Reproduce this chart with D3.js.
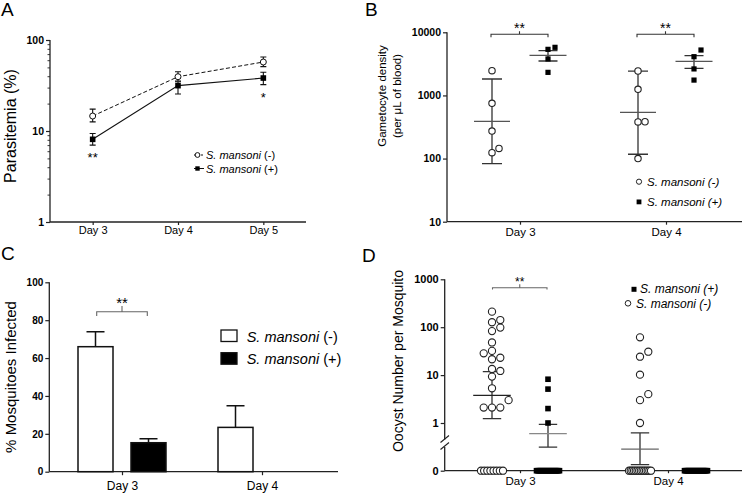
<!DOCTYPE html>
<html><head><meta charset="utf-8">
<script src="https://cdn.jsdelivr.net/npm/d3@7"></script>
<style>body{margin:0;background:#fff} svg{display:block} text{font-family:"Liberation Sans",Arial,sans-serif;fill:#000}</style>
</head><body><svg id="c" width="744" height="498"></svg>
<script>
// ---------------- data ----------------
// Panel A: parasitemia (%)
const daysA = ["Day 3", "Day 4", "Day 5"];
const aMinusMean = [14.6, 39.5, 57.3];
const aMinusLo   = [12.6, 35.5, 51.0];
const aMinusHi   = [17.4, 44.8, 65.0];
const aPlusMean  = [8.1, 31.5, 38.2];
const aPlusLo    = [7.0, 25.5, 32.3];
const aPlusHi    = [9.4, 34.8, 44.2];
const aSig       = ["**", "", "*"];
const aTicks     = [1, 10, 100];

// Panel B: gametocyte density
const daysB = ["Day 3", "Day 4"];
const bMinus = [[2465, 750, 273, 145, 124], [2440, 1250, 383, 380, 100]];
const bPlus  = [[5370, 5780, 3780, 2320], [5240, 4110, 2630, 1750]];
const bMinusMean = [389, 540],  bMinusLo = [83, 117],    bMinusHi = [1820, 2430];
const bPlusMean  = [4320, 3470], bPlusLo = [3510, 2690], bPlusHi  = [5110, 4260];
const bTicks = [10, 100, 1000, 10000];

// Panel C: % mosquitoes infected
const daysC = ["Day 3", "Day 4"];
const cMinus = [66.0, 23.4], cMinusErr = [73.9, 34.8];
const cPlus  = [15.3, 0],    cPlusErr  = [17.4, 0];
const cTicks = [0, 20, 40, 60, 80, 100];

// Panel D: oocyst number per mosquito
const daysD = ["Day 3", "Day 4"];
const dMinus = [
  [211, 141, 127, 98, 83, 48, 32, 28.5, 23, 21.4, 13.4, 12.2, 9.3, 5.3, 3.0, 2.1, 2.1, 2.1, 0, 0, 0, 0, 0, 0, 0, 0],
  [61.5, 30.8, 24.2, 10.2, 4.0, 3.0, 1.0, 0, 0, 0, 0, 0, 0, 0, 0, 0, 0, 0, 0, 0, 0]
];
const dPlus = [
  [8.2, 5.1, 2.0, 1.0, 0, 0, 0, 0, 0, 0, 0, 0, 0, 0, 0, 0, 0, 0, 0, 0, 0, 0, 0, 0, 0, 0],
  [0, 0, 0, 0, 0, 0, 0, 0, 0, 0, 0, 0, 0, 0, 0, 0, 0, 0, 0, 0, 0, 0, 0, 0]
];
const dMinusMean = [3.79, 0.30], dMinusLo = [1.23, 0.084], dMinusHi = [11.8, 0.62];
const dPlusMean  = [0.60, null], dPlusLo  = [0.33, null],  dPlusHi  = [0.94, null];
const dTicks = [1, 10, 100, 1000];

// ---------------- helpers ----------------
const svg = d3.select("#c");
const AX = "#222";

function styleAxis(g, fs, bold) {
  g.selectAll("path.domain").remove();
  g.selectAll("line").attr("stroke", AX).attr("stroke-width", 1.2);
  g.selectAll("text").attr("font-size", fs).attr("font-weight", bold ? "bold" : "normal")
    .attr("font-family", '"Liberation Sans",Arial,sans-serif').attr("fill", "#000");
}
function axisLine(g, x1, y1, x2, y2) {
  g.append("line").attr("x1", x1).attr("y1", y1).attr("x2", x2).attr("y2", y2)
    .attr("stroke", AX).attr("stroke-width", 1.3);
}
function swarm(vals, yFn, step, minDist) {
  const placed = [];
  const sorted = vals.filter(v => v > 0).slice().sort((a, b) => a - b);
  return sorted.map(v => {
    const y = yFn(v);
    const cands = [0, step, -step, 2 * step, -2 * step, 3 * step, -3 * step];
    for (const c of cands) {
      if (placed.every(p => Math.hypot(p.x - c, p.y - y) >= minDist)) {
        placed.push({ x: c, y });
        return { v, dx: c, y };
      }
    }
    placed.push({ x: 0, y });
    return { v, dx: 0, y };
  });
}
function bracket(g, x1, x2, y, down, up, label, fs, color) {
  g.append("path").attr("d", `M${x1},${y + down}V${y}H${x2}V${y + down}M${(x1 + x2) / 2},${y}V${y - up}`)
    .attr("fill", "none").attr("stroke", color).attr("stroke-width", 1.1);
  g.append("text").attr("x", (x1 + x2) / 2).attr("y", y - up + 1.5).attr("text-anchor", "middle")
    .attr("font-size", fs).text(label);
}
function legendText(g, x, y, fs, italicPart, rest, restItalic) {
  const t = g.append("text").attr("x", x).attr("y", y).attr("font-size", fs);
  t.append("tspan").attr("font-style", "italic").text(italicPart);
  t.append("tspan").attr("font-style", restItalic ? "italic" : "normal").text(rest);
}
function panelLabel(x, y, s) {
  svg.append("text").attr("x", x).attr("y", y).attr("font-size", 19).text(s);
}

panelLabel(1, 16, "A");
panelLabel(365, 16, "B");
panelLabel(1, 260, "C");
panelLabel(362, 262, "D");

// ---------------- Panel A ----------------
{
  const g = svg.append("g");
  const xA = d3.scalePoint().domain(daysA).range([50, 306]).padding(0.5);
  const yA = d3.scaleLog().domain([1, 100]).range([222, 40]);
  const minor = [];
  [1, 10].forEach(b => { for (let k = 2; k <= 9; k++) minor.push(b * k); });
  const gy = g.append("g").attr("transform", "translate(50,0)")
    .call(d3.axisLeft(yA).tickValues(aTicks).tickFormat(d3.format("d")).tickSize(4).tickPadding(2));
  styleAxis(gy, 10.5, true);
  const gm = g.append("g").attr("transform", "translate(50,0)")
    .call(d3.axisLeft(yA).tickValues(minor).tickFormat("").tickSize(2.5));
  styleAxis(gm, 10, false);
  gm.selectAll("line").attr("stroke-width", 0.9);
  const gx = g.append("g").attr("transform", "translate(0,222)")
    .call(d3.axisBottom(xA).tickSize(3).tickPadding(1.5));
  styleAxis(gx, 11, false);
  axisLine(g, 50, 40, 50, 222);
  axisLine(g, 50, 222, 306, 222);

  g.append("text").attr("transform", "translate(16,126) rotate(-90)").attr("text-anchor", "middle")
    .attr("font-size", 16).text("Parasitemia (%)");

  const line = d3.line().x((d, i) => xA(daysA[i])).y(d => yA(d));
  g.append("path").attr("d", line(aMinusMean)).attr("fill", "none").attr("stroke", "#111")
    .attr("stroke-width", 1).attr("stroke-dasharray", "4,2.2");
  g.append("path").attr("d", line(aPlusMean)).attr("fill", "none").attr("stroke", "#111").attr("stroke-width", 1.1);

  function errs(lo, hi) {
    daysA.forEach((d, i) => {
      const x = xA(d);
      g.append("path").attr("d", `M${x},${yA(lo[i])}V${yA(hi[i])}M${x - 3},${yA(lo[i])}H${x + 3}M${x - 3},${yA(hi[i])}H${x + 3}`)
        .attr("stroke", "#111").attr("stroke-width", 1.1).attr("fill", "none");
    });
  }
  errs(aMinusLo, aMinusHi);
  errs(aPlusLo, aPlusHi);
  daysA.forEach((d, i) => {
    g.append("circle").attr("cx", xA(d)).attr("cy", yA(aMinusMean[i])).attr("r", 3)
      .attr("fill", "#fff").attr("stroke", "#111").attr("stroke-width", 1);
    g.append("rect").attr("x", xA(d) - 2.8).attr("y", yA(aPlusMean[i]) - 2.8).attr("width", 5.6).attr("height", 5.6).attr("fill", "#000");
    if (aSig[i]) g.append("text").attr("x", xA(d)).attr("y", yA(aPlusLo[i]) + 17).attr("text-anchor", "middle")
      .attr("font-size", 13).text(aSig[i]);
  });
  // legend
  g.append("line").attr("x1", 194).attr("x2", 204).attr("y1", 155).attr("y2", 155).attr("stroke", "#111").attr("stroke-dasharray", "2,1.5");
  g.append("circle").attr("cx", 197.5).attr("cy", 155).attr("r", 2.4).attr("fill", "#fff").attr("stroke", "#111");
  legendText(g, 206, 159, 11, "S. mansoni", " (-)", false);
  g.append("line").attr("x1", 194).attr("x2", 204).attr("y1", 168.5).attr("y2", 168.5).attr("stroke", "#111");
  g.append("rect").attr("x", 195.3).attr("y", 166.3).attr("width", 4.4).attr("height", 4.4).attr("fill", "#000");
  legendText(g, 206, 172.5, 11, "S. mansoni", " (+)", false);
}

// ---------------- Panel B ----------------
{
  const g = svg.append("g");
  const xB = d3.scalePoint().domain(daysB).range([447, 739]).padding(0.5);
  const yB = d3.scaleLog().domain([10, 10000]).range([221.7, 32.3]);
  const gy = g.append("g").attr("transform", "translate(447,0)")
    .call(d3.axisLeft(yB).tickValues(bTicks).tickFormat(d3.format("d")).tickSize(4).tickPadding(2));
  styleAxis(gy, 10.5, true);
  const gx = g.append("g").attr("transform", "translate(0,221.7)")
    .call(d3.axisBottom(xB).tickSize(3).tickPadding(3));
  styleAxis(gx, 11.5, false);
  axisLine(g, 447, 32.3, 447, 221.7);
  axisLine(g, 447, 221.7, 742, 221.7);

  g.append("text").attr("transform", "translate(386,96) rotate(-90)").attr("text-anchor", "middle")
    .attr("font-size", 11.5).text("Gametocyte density");
  g.append("text").attr("transform", "translate(401,96) rotate(-90)").attr("text-anchor", "middle")
    .attr("font-size", 11.5).text("(per μL of blood)");

  daysB.forEach((d, i) => {
    const xm = xB(d) - 28, xp = xB(d) + 28;
    // minus: mean +/- SD
    g.append("path").attr("d", `M${xm},${yB(bMinusLo[i])}V${yB(bMinusHi[i])}M${xm - 10},${yB(bMinusLo[i])}H${xm + 10}M${xm - 10},${yB(bMinusHi[i])}H${xm + 10}`)
      .attr("stroke", "#333").attr("stroke-width", 1.3).attr("fill", "none");
    g.append("line").attr("x1", xm - 18).attr("x2", xm + 18).attr("y1", yB(bMinusMean[i])).attr("y2", yB(bMinusMean[i]))
      .attr("stroke", "#555").attr("stroke-width", 1.3);
    swarm(bMinus[i], yB, 7, 7).forEach(p => {
      g.append("circle").attr("cx", xm + p.dx).attr("cy", p.y).attr("r", 3.2)
        .attr("fill", "#fff").attr("stroke", "#222").attr("stroke-width", 1.1);
    });
    // plus
    g.append("path").attr("d", `M${xp},${yB(bPlusLo[i])}V${yB(bPlusHi[i])}M${xp - 9.5},${yB(bPlusLo[i])}H${xp + 9.5}M${xp - 9.5},${yB(bPlusHi[i])}H${xp + 9.5}`)
      .attr("stroke", "#333").attr("stroke-width", 1.3).attr("fill", "none");
    g.append("line").attr("x1", xp - 18.5).attr("x2", xp + 18.5).attr("y1", yB(bPlusMean[i])).attr("y2", yB(bPlusMean[i]))
      .attr("stroke", "#555").attr("stroke-width", 1.3);
    swarm(bPlus[i], yB, 7, 7).forEach(p => {
      g.append("rect").attr("x", xp + p.dx - 2.6).attr("y", p.y - 2.6).attr("width", 5.2).attr("height", 5.2).attr("fill", "#000");
    });
    bracket(g, xm - 1, xp, 34.3, 3, 3, "**", 14, "#333");
  });
  g.append("circle").attr("cx", 639).attr("cy", 181.7).attr("r", 2.6).attr("fill", "#fff").attr("stroke", "#222");
  legendText(g, 647, 185.7, 11.5, "S. mansoni", " (-)", true);
  g.append("rect").attr("x", 636.6).attr("y", 199.5).attr("width", 4.8).attr("height", 4.8).attr("fill", "#000");
  legendText(g, 647, 206, 11.5, "S. mansoni", " (+)", true);
}

// ---------------- Panel C ----------------
{
  const g = svg.append("g");
  const xC = d3.scalePoint().domain(daysC).range([52, 332]).padding(0.5);
  const yC = d3.scaleLinear().domain([0, 100]).range([471.7, 282.3]);
  const gy = g.append("g").attr("transform", "translate(49.3,0)")
    .call(d3.axisLeft(yC).tickValues(cTicks).tickSize(4).tickPadding(2));
  styleAxis(gy, 10, true);
  const gx = g.append("g").attr("transform", "translate(0,471.7)")
    .call(d3.axisBottom(xC).tickSize(3.5).tickPadding(6));
  styleAxis(gx, 12, false);
  axisLine(g, 49.3, 282.3, 49.3, 471.7);
  axisLine(g, 49.3, 471.7, 338, 471.7);

  g.append("text").attr("transform", "translate(16,377) rotate(-90)").attr("text-anchor", "middle")
    .attr("font-size", 15).text("% Mosquitoes Infected");

  const bw = 35;
  function bar(cx, v, err, fill) {
    if (v <= 0) return;
    g.append("path").attr("d", `M${cx},${yC(v)}V${yC(err)}M${cx - 9},${yC(err)}H${cx + 9}`)
      .attr("stroke", "#111").attr("stroke-width", 1.5).attr("fill", "none");
    g.append("rect").attr("x", cx - bw / 2).attr("y", yC(v)).attr("width", bw).attr("height", yC(0) - yC(v))
      .attr("fill", fill).attr("stroke", "#111").attr("stroke-width", 1.5);
  }
  daysC.forEach((d, i) => {
    bar(xC(d) - 26.5, cMinus[i], cMinusErr[i], "#fff");
    bar(xC(d) + 26.5, cPlus[i], cPlusErr[i], "#000");
  });
  bracket(g, xC(daysC[0]) - 25.3, xC(daysC[0]) + 25.3, 311.7, 4.3, 5.7, "**", 15, "#666");

  g.append("rect").attr("x", 221).attr("y", 330).attr("width", 16).attr("height", 11.5)
    .attr("fill", "#fff").attr("stroke", "#111").attr("stroke-width", 1.3);
  legendText(g, 246.7, 341.5, 14.5, "S. mansoni", "  (-)", false);
  g.append("rect").attr("x", 221).attr("y", 352.7).attr("width", 16).attr("height", 11.5)
    .attr("fill", "#000").attr("stroke", "#111").attr("stroke-width", 1.3);
  legendText(g, 246.7, 364.3, 14.5, "S. mansoni", "  (+)", false);
}

// ---------------- Panel D ----------------
{
  const g = svg.append("g");
  const xD = d3.scalePoint().domain(daysD).range([446, 742]).padding(0.5);
  const yDlog = d3.scaleLog().domain([1, 1000]).range([423, 279.3]);
  const dBreak = 0.4;
  const yDlin = d3.scaleLinear().domain([0, dBreak]).range([470.7, yDlog(dBreak)]);
  const yD = v => (v >= dBreak ? yDlog(v) : yDlin(v));

  const gy = g.append("g").attr("transform", "translate(444.7,0)")
    .call(d3.axisLeft(yDlog).tickValues(dTicks).tickFormat(d3.format("d")).tickSize(4).tickPadding(2));
  styleAxis(gy, 11, true);
  const gz = g.append("g").attr("transform", "translate(444.7,0)")
    .call(d3.axisLeft(yDlin).tickValues([0]).tickFormat(d3.format("d")).tickSize(4).tickPadding(2));
  styleAxis(gz, 11, true);
  const gx = g.append("g").attr("transform", "translate(0,470.7)")
    .call(d3.axisBottom(xD).tickSize(2.5).tickPadding(4));
  styleAxis(gx, 11.5, false);
  axisLine(g, 444.7, 279.3, 444.7, 439.5);
  axisLine(g, 444.7, 447, 444.7, 470.7);
  g.append("path").attr("d", "M440.5,442.5L449,435.5M440.5,449.5L449,442.5")
    .attr("stroke", AX).attr("stroke-width", 1.1).attr("fill", "none");
  axisLine(g, 444.7, 470.7, 742, 470.7);

  g.append("text").attr("transform", "translate(403,361) rotate(-90)").attr("text-anchor", "middle")
    .attr("font-size", 14).text("Oocyst Number per Mosquito");

  function zeros(vals) { return vals.filter(v => v === 0); }
  function spread(n, half) { return d3.range(n).map(k => (n === 1 ? 0 : -half + (2 * half * k) / (n - 1))); }
  const meanCol = ["#222", "#666"];
  daysD.forEach((d, i) => {
    const xm = xD(d) - 28, xp = xD(d) + 28;
    // minus
    g.append("path").attr("d", `M${xm},${yD(dMinusLo[i])}V${yD(dMinusHi[i])}M${xm - 9.2},${yD(dMinusLo[i])}H${xm + 9.2}M${xm - 9.2},${yD(dMinusHi[i])}H${xm + 9.2}`)
      .attr("stroke", "#333").attr("stroke-width", 1.3).attr("fill", "none");
    g.append("line").attr("x1", xm - 18.8).attr("x2", xm + 18.8).attr("y1", yD(dMinusMean[i])).attr("y2", yD(dMinusMean[i]))
      .attr("stroke", meanCol[i]).attr("stroke-width", 1.3);
    swarm(dMinus[i], yD, 8.3, 7.5).forEach(p => {
      g.append("circle").attr("cx", xm + p.dx).attr("cy", p.y).attr("r", 3.6)
        .attr("fill", "#fff").attr("stroke", "#222").attr("stroke-width", 1.1);
    });
    const zm = zeros(dMinus[i]);
    spread(zm.length, 11).forEach(dx => {
      g.append("circle").attr("cx", xm + dx).attr("cy", yD(0)).attr("r", 3.6)
        .attr("fill", "#fff").attr("stroke", "#222").attr("stroke-width", 1.1);
    });
    // plus
    if (dPlusMean[i] != null) {
      g.append("path").attr("d", `M${xp},${yD(dPlusLo[i])}V${yD(dPlusHi[i])}M${xp - 9.2},${yD(dPlusLo[i])}H${xp + 9.2}M${xp - 9.2},${yD(dPlusHi[i])}H${xp + 9.2}`)
        .attr("stroke", "#333").attr("stroke-width", 1.3).attr("fill", "none");
      g.append("line").attr("x1", xp - 18.8).attr("x2", xp + 18.8).attr("y1", yD(dPlusMean[i])).attr("y2", yD(dPlusMean[i]))
        .attr("stroke", "#888").attr("stroke-width", 1.4);
    }
    swarm(dPlus[i], yD, 8.3, 7.5).forEach(p => {
      g.append("rect").attr("x", xp + p.dx - 2.8).attr("y", p.y - 2.8).attr("width", 5.6).attr("height", 5.6).attr("fill", "#000");
    });
    const zp = zeros(dPlus[i]);
    spread(zp.length, 11.5).forEach(dx => {
      g.append("rect").attr("x", xp + dx - 2.8).attr("y", yD(0) - 2.8).attr("width", 5.6).attr("height", 5.6).attr("fill", "#000");
    });
  });
  bracket(g, xD(daysD[0]) - 27.5, xD(daysD[0]) + 27, 287.7, 1.8, 3.4, "**", 12, "#666");

  g.append("rect").attr("x", 631.5).attr("y", 286.8).attr("width", 5).attr("height", 5).attr("fill", "#000");
  legendText(g, 640, 293.3, 12, "S. mansoni", " (+)", true);
  g.append("circle").attr("cx", 628).attr("cy", 303.3).attr("r", 2.8).attr("fill", "#fff").attr("stroke", "#222");
  legendText(g, 636, 307.5, 12, "S. mansoni", " (-)", true);
}
</script></body></html>
